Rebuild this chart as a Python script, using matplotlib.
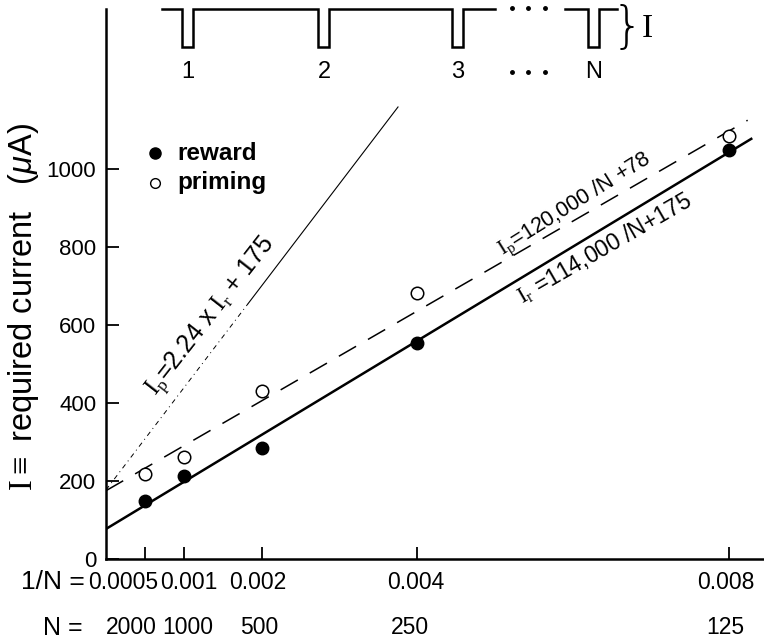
import numpy as np
import matplotlib
matplotlib.use("Agg")
import matplotlib.pyplot as plt
from matplotlib.transforms import blended_transform_factory, ScaledTranslation

plt.rcParams['font.family'] = ['Liberation Sans', 'DejaVu Sans']
plt.rcParams['mathtext.fontset'] = 'custom'
plt.rcParams['mathtext.rm'] = 'Liberation Serif'
plt.rcParams['mathtext.it'] = 'Liberation Sans:italic'

# Data (x = 1/N, y = required current in uA)
inv_n = [0.0005, 0.001, 0.002, 0.004, 0.008]
n_labels = ['2000', '1000', '500', '250', '125']
inv_n_labels = ['0.0005', '0.001', '0.002', '0.004', '0.008']
reward = [148, 212, 284, 553, 1048]
priming = [218, 261, 430, 681, 1083]

# fitted lines (end points)
reward_fit_x = [0.0, 0.0083]
reward_fit_y = [77, 1078]
priming_fit_x = [0.0, 0.00824]
priming_fit_y = [175, 1124]
# I_p = 2.24 x I_r + 175 line: dotted lower part, thin solid upper part
rel_low_x = [0.0, 0.00182]
rel_low_y = [177, 653]
rel_high_x = [0.00182, 0.00375]
rel_high_y = [653, 1158]

W, H = 764, 644
fig = plt.figure(figsize=(W / 100, H / 100), dpi=100)
ax = fig.add_axes([106 / W, 85 / H, 658 / W, 550 / H])
ax.set_xlim(0, 0.00845)
ax.set_ylim(0, 1409)

for s in ['top', 'right']:
    ax.spines[s].set_visible(False)
for s in ['left', 'bottom']:
    ax.spines[s].set_linewidth(1.8)

ax.plot(reward_fit_x, reward_fit_y, color='black', lw=1.8, solid_capstyle='butt')
dline, = ax.plot(priming_fit_x, priming_fit_y, color='black', lw=1.1)
dline.set_dashes((13, 9))
rl, = ax.plot(rel_low_x, rel_low_y, color='black', lw=0.7)
rl.set_dashes((5, 4, 1, 4))
ax.plot(rel_high_x, rel_high_y, color='black', lw=0.8)

ax.plot(inv_n, reward, 'o', color='black', ms=9, zorder=3)
ax.plot(inv_n, priming, 'o', mfc='white', mec='black', mew=1.1, ms=9, zorder=3)

ax.set_yticks([0, 200, 400, 600, 800, 1000])
ax.tick_params(axis='y', direction='in', length=9, width=1.3, labelsize=16, pad=7)
ax.set_xticks(inv_n)
ax.set_xticklabels([''] * len(inv_n))
ax.tick_params(axis='x', direction='in', length=9, width=1.3)

# two rows of x labels
trans = blended_transform_factory(ax.transData, ax.transAxes)
row1_nudge = [-22, 5, -4, -2, -3]
row2_nudge = [-14, 4, -3, -8, -4]
for x, lab, dx in zip(inv_n, inv_n_labels, row1_nudge):
    ax.text(x, -0.042, lab, transform=trans + ScaledTranslation(dx / 100, 0, fig.dpi_scale_trans),
            ha='center', va='center', fontsize=16.5, clip_on=False)
for x, lab, dx in zip(inv_n, n_labels, row2_nudge):
    ax.text(x, -0.125, lab, transform=trans + ScaledTranslation(dx / 100, 0, fig.dpi_scale_trans),
            ha='center', va='center', fontsize=16.5, clip_on=False)
fig.text(85 / W, 1 - 582 / H, '1/N =', ha='right', va='center', fontsize=19)
fig.text(83 / W, 1 - 628 / H, 'N =', ha='right', va='center', fontsize=18)

fig.text(24 / W, 1 - 307 / H, r'$\mathrm{I}\equiv$ required current   ($\mu$A)',
         rotation=90, ha='center', va='center', fontsize=23.5)

# legend
ax.plot([0.0745], [0.738], 'o', color='black', ms=8, transform=ax.transAxes, clip_on=False)
ax.plot([0.0745], [0.684], 'o', mfc='white', mec='black', mew=1.0, ms=7, transform=ax.transAxes, clip_on=False)
ax.text(0.108, 0.738, 'reward', transform=ax.transAxes, fontsize=17.5, fontweight='bold', va='center')
ax.text(0.108, 0.684, 'priming', transform=ax.transAxes, fontsize=17.5, fontweight='bold', va='center')

# line labels
ax.text(0.00135, 620, r'$\mathrm{I}_\mathrm{p}$=2.24 x $\mathrm{I}_\mathrm{r}$ + 175', rotation=52,
        ha='center', va='center', fontsize=18, rotation_mode='anchor')
ax.text(0.00602, 907, r'$\mathrm{I}_\mathrm{p}$=120,000 /N +78', rotation=32,
        ha='center', va='center', fontsize=15.5, rotation_mode='anchor')
ax.text(0.00640, 797, r'$\mathrm{I}_\mathrm{r}$ =114,000 /N+175', rotation=30,
        ha='center', va='center', fontsize=16.5, rotation_mode='anchor')

# pulse train schematic at the top (pixel coordinates)
ov = fig.add_axes([0, 0, 1, 1], zorder=5)
ov.set_xlim(0, W)
ov.set_ylim(H, 0)
ov.axis('off')
pulse_centers = [187, 323, 457, 593]
pulse_names = ['1', '2', '3', 'N']
half = 5.5
top_y, bot_y = 9, 47
segs = [(162, 495, pulse_centers[:3]), (565, 617, pulse_centers[3:])]
for x0, x1, cs in segs:
    xs, ys = [x0], [top_y]
    for c in cs:
        xs += [c - half, c - half, c + half, c + half]
        ys += [top_y, bot_y, bot_y, top_y]
    xs.append(x1)
    ys.append(top_y)
    ov.plot(xs, ys, color='black', lw=1.8, solid_joinstyle='miter')
for c, name in zip(pulse_centers, pulse_names):
    ov.text(c + 1, 72, name, ha='center', va='center', fontsize=17)
for dx in [512, 528, 545]:
    ov.plot([dx], [8], 'o', color='black', ms=2.5)
    ov.plot([dx], [72], 'o', color='black', ms=2.5)
ov.text(627, 28, '}', ha='center', va='center', fontsize=36, family='DejaVu Sans',
        fontweight='light')
ov.text(647, 29, 'I', ha='center', va='center', fontsize=24, family='Liberation Serif')

fig.savefig('out.png', dpi=100)
